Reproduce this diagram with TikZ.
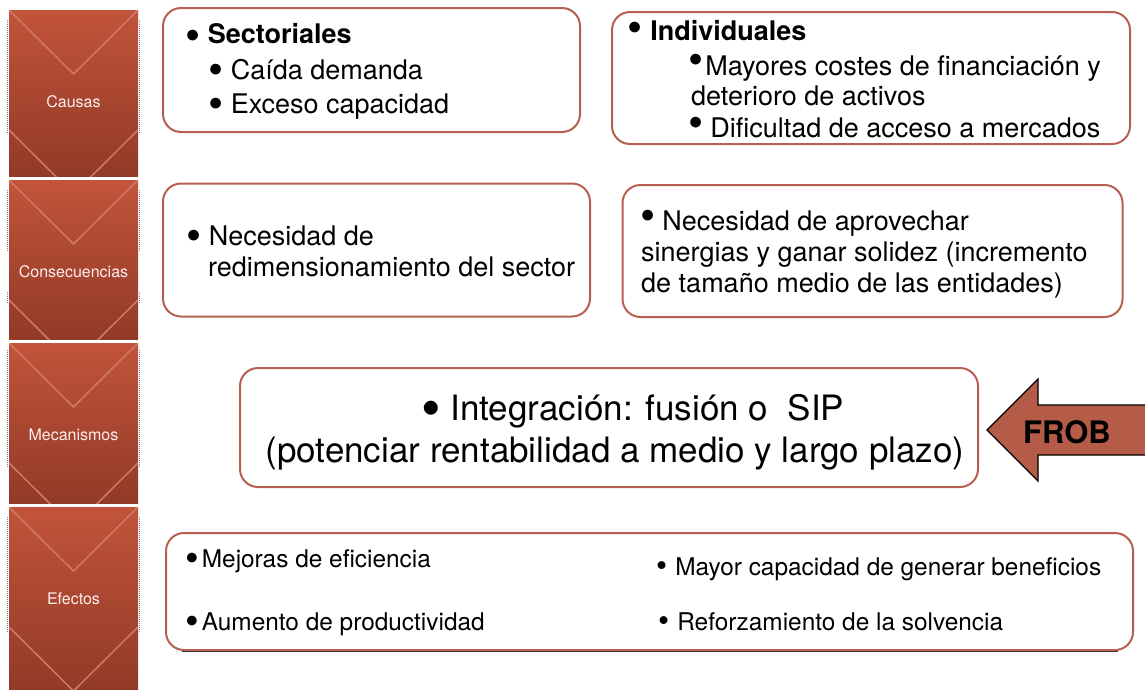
\documentclass[tikz,border=0pt]{standalone}
\usepackage{fontspec}
\setmainfont{TeX Gyre Heros}

\definecolor{rust}{RGB}{183,96,80}
\definecolor{chevtop}{RGB}{194,84,58}
\definecolor{chevbot}{RGB}{146,58,40}
\definecolor{chevline}{RGB}{208,122,102}
\definecolor{frobfill}{RGB}{181,92,72}
\newcommand{\boxfont}{\fontsize{27}{31}\selectfont}
\newcommand{\efefont}{\fontsize{24.4}{28}\selectfont}
\newcommand{\mecfont}{\fontsize{35}{42}\selectfont}
\newcommand{\bul}[1]{\smash{\raisebox{#1}{\scalebox{1.6}{\textbullet}}}}
\newcommand{\dotsmall}{\smash{\raisebox{-0.08em}{\scalebox{1.3}{\textbullet}}}}

\begin{document}
\begin{tikzpicture}[x=1pt,y=-1pt,
  box/.style={draw=rust, line width=2pt, rounded corners=18pt},
  txt/.style={anchor=base west, inner sep=0pt, font=\boxfont},
  efe/.style={anchor=base west, inner sep=0pt, font=\efefont},
  lab/.style={text=white!93!red, font=\fontsize{16}{18}\selectfont},
  chev/.style={draw=chevline, line width=1.5pt},
  selmark/.style={gray, densely dotted, line width=1pt}]
\useasboundingbox (0,0) rectangle (1145,689);
% Left chevron column
\foreach \ya/\yb/\lname/\ltext in {10/176/causas/Causas, 180/339/conse/Consecuencias, 343/503/meca/Mecanismos, 507/689/efec/Efectos} {
  \shade[top color=chevtop, bottom color=chevbot] (9,\ya) rectangle (138,\yb);
  \begin{scope}
    \clip (9,\ya) rectangle (138,\yb);
    \draw[chev] (9,\ya) -- (73.5,\ya+64) -- (138,\ya);
    \draw[chev] (9,\ya+120) -- (73.5,\ya+184) -- (138,\ya+120);
  \end{scope}
  \node[lab] (\lname) at (73.5,\ya+92) {\ltext};
}
\foreach \ya/\yb in {20/133, 190/252, 292/303, 350/467, 517/632} {
  \draw[selmark] (7,\ya) -- (7,\yb);
  \draw[selmark] (139,\ya) -- (139,\yb);
}
% Causas
\node[box, minimum width=417, minimum height=124] (sect) at (371.5,70) {};
\node[txt, font=\boxfont\bfseries] (sect1) at (185,43) {\bul{-0.2em}\ Sectoriales};
\node[txt] (sect2) at (208,79) {\bul{-0.2em}\ Caída demanda};
\node[txt] (sect3) at (208,113) {\bul{-0.2em}\ Exceso capacidad};
\node[box, minimum width=518, minimum height=132] (indiv) at (871,78) {};
\node[txt, font=\boxfont\bfseries] (indiv1) at (627,40) {\bul{0em}\hspace{8pt}Individuales};
\node[txt] (indiv2) at (688,75) {\bul{0.02em}\hspace{2pt}Mayores costes de financiación y};
\node[txt] (indiv3) at (691,105) {deterioro de activos};
\node[txt] (indiv4) at (688,137) {\bul{-0.02em}\hspace{7pt}Dificultad de acceso a mercados};
% Consecuencias
\node[box, minimum width=427, minimum height=133] (redim) at (376.5,250) {};
\node[txt] (redim1) at (186,245) {\bul{-0.2em}\ Necesidad de};
\node[txt] (redim2) at (208,276) {redimensionamiento del sector};
\node[box, minimum width=500, minimum height=132] (siner) at (872.5,251) {};
\node[txt] (siner1) at (640,230) {\bul{0em}\hspace{7pt}Necesidad de aprovechar};
\node[txt] (siner2) at (641,261) {sinergias y ganar solidez (incremento};
\node[txt] (siner3) at (641,292) {de tamaño medio de las entidades)};
% Mecanismos
\node[box, minimum width=738, minimum height=119] (integ) at (609,427.5) {};
\node[anchor=base west, inner sep=0pt, font=\mecfont] (integ1) at (421,420) {\bul{-0.2em}\ Integración: fusión o \ SIP};
\node[anchor=base, inner sep=0pt, font=\mecfont] (integ2) at (615,462) {(potenciar rentabilidad a medio y largo plazo)};
\draw[black, line width=1.2pt, fill=frobfill] (987,430) -- (1038,379) -- (1038,405) -- (1150,405)
  -- (1150,455) -- (1038,455) -- (1038,481) -- cycle;
\node[font=\fontsize{31}{32}\selectfont\bfseries] (frob) at (1067,432) {FROB};
% Efectos
\draw[black!80, line width=1.5pt] (182,651) -- (1118,651);
\node[box, fill=white, minimum width=967, minimum height=117] (efect) at (649.5,591.5) {};
\node[efe] (efect1) at (185,567) {\bul{-0.2em}\hspace{3pt}Mejoras de eficiencia};
\node[efe] (efect2) at (185,630) {\bul{-0.2em}\hspace{3pt}Aumento de productividad};
\node[efe] (efect3) at (656,575) {\dotsmall\hspace{8pt}Mayor capacidad de generar beneficios};
\node[efe] (efect4) at (658,630) {\dotsmall\hspace{8pt}Reforzamiento de la solvencia};
\end{tikzpicture}
\end{document}
